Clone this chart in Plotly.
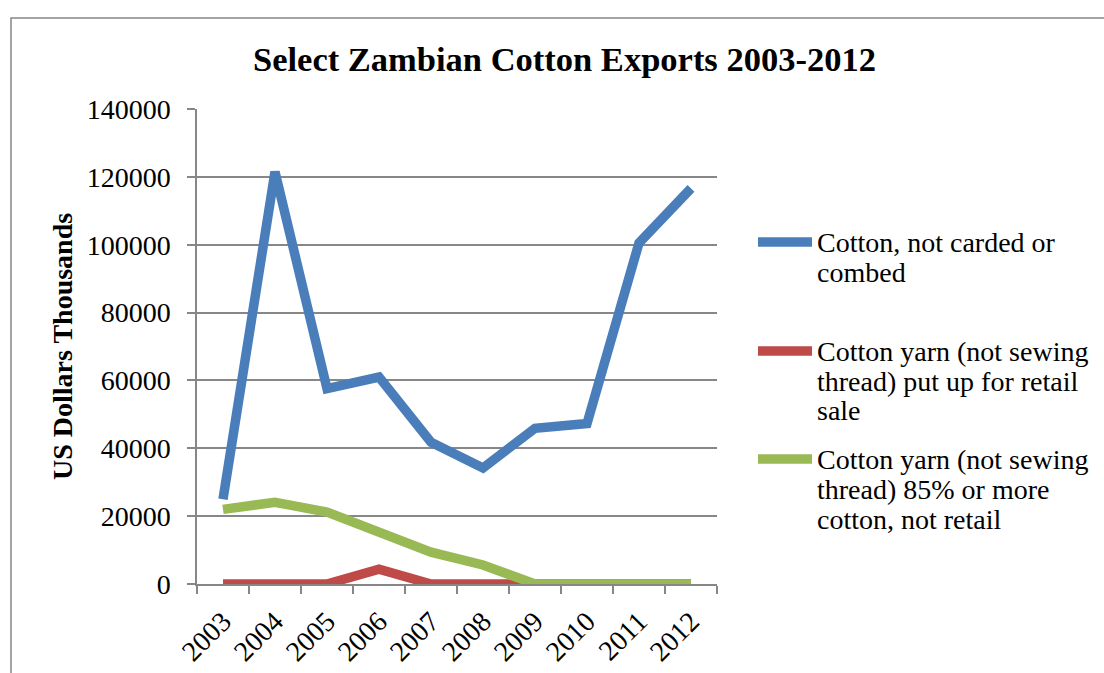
import plotly.graph_objects as go

# Export values, US$ thousands
years = ["2003", "2004", "2005", "2006", "2007", "2008", "2009", "2010", "2011", "2012"]
cotton_raw = [25000, 121500, 57600, 61000, 41800, 34200, 45900, 47300, 100500, 116600]
yarn_retail = [0, 0, 0, 4400, 0, 0, 0, 0, 0, 0]
yarn_85 = [22000, 24100, 21200, 15300, 9400, 5600, 0, 0, 0, 0]

series_names = [
    ["Cotton, not carded or", "combed"],
    ["Cotton yarn (not sewing", "thread) put up for retail", "sale"],
    ["Cotton yarn (not sewing", "thread) 85% or more", "cotton, not retail"],
]
series_values = [cotton_raw, yarn_retail, yarn_85]
colors = ["#4A7EBB", "#BE4B48", "#98B954"]

FONT = "Liberation Serif"
GRAY = "#878787"

W, H = 1104, 673
L, R, T, B = 197, 387, 109, 89
PW, PH = W - L - R, H - T - B


def px(x):
    return (x - L) / PW


def py(y):
    return (H - B - y) / PH


fig = go.Figure()
for vals, name, col in zip(series_values, series_names, colors):
    fig.add_trace(go.Scatter(
        x=years, y=vals, mode="lines", name=" ".join(name),
        line=dict(color=col, width=9.5), showlegend=False,
    ))

shapes = [
    # outer chart frame
    dict(type="rect", xref="paper", yref="paper",
         x0=px(11), x1=px(1112), y0=py(690), y1=py(18),
         line=dict(color=GRAY, width=1.5), fillcolor="rgba(0,0,0,0)", layer="below"),
]
annotations = [
    dict(text="Select Zambian Cotton Exports 2003-2012", xref="paper", yref="paper",
         x=px(564), y=py(59), xanchor="center", yanchor="middle", showarrow=False,
         font=dict(family=FONT, size=34.5, color="#000000", weight=700)),
    dict(text="US Dollars Thousands", xref="paper", yref="paper",
         x=px(62), y=py(347), xanchor="center", yanchor="middle", showarrow=False,
         textangle=-90, font=dict(family=FONT, size=28, color="#000000", weight=700)),
]

# legend: line swatch plus wrapped label lines
legend_rows = [242, 351, 459]
for name, col, yrow in zip(series_names, colors, legend_rows):
    shapes.append(dict(type="line", xref="paper", yref="paper",
                       x0=px(758), x1=px(812), y0=py(yrow), y1=py(yrow),
                       line=dict(color=col, width=9.5)))
    for i, line in enumerate(name):
        annotations.append(dict(text=line, xref="paper", yref="paper",
                                x=px(815), y=py(yrow + 30 * i), xanchor="left",
                                yanchor="middle", showarrow=False,
                                font=dict(family=FONT, size=28, color="#000000")))

fig.update_layout(
    width=W, height=H,
    margin=dict(l=L, r=R, t=T, b=B, pad=0),
    paper_bgcolor="white", plot_bgcolor="white",
    font=dict(family=FONT, color="#000000"),
    shapes=shapes, annotations=annotations,
    xaxis=dict(
        type="category", range=[-0.5, 9.5], showgrid=False, automargin=False,
        showline=True, linecolor=GRAY, linewidth=1.5,
        ticks="outside", ticklen=8, tickcolor=GRAY, tickwidth=1.5,
        tickson="boundaries", tickangle=-45, ticklabelstandoff=8,
        tickfont=dict(family=FONT, size=28, color="#000000"),
    ),
    yaxis=dict(
        range=[0, 140000], dtick=20000, tickformat="d", automargin=False,
        showgrid=True, gridcolor=GRAY, gridwidth=1.5, zeroline=False,
        showline=True, linecolor=GRAY, linewidth=1.5,
        ticks="outside", ticklen=8, tickcolor=GRAY, tickwidth=1.5,
        ticklabelstandoff=11,
        tickfont=dict(family=FONT, size=28, color="#000000"),
    ),
)

fig.write_html("out.html")
